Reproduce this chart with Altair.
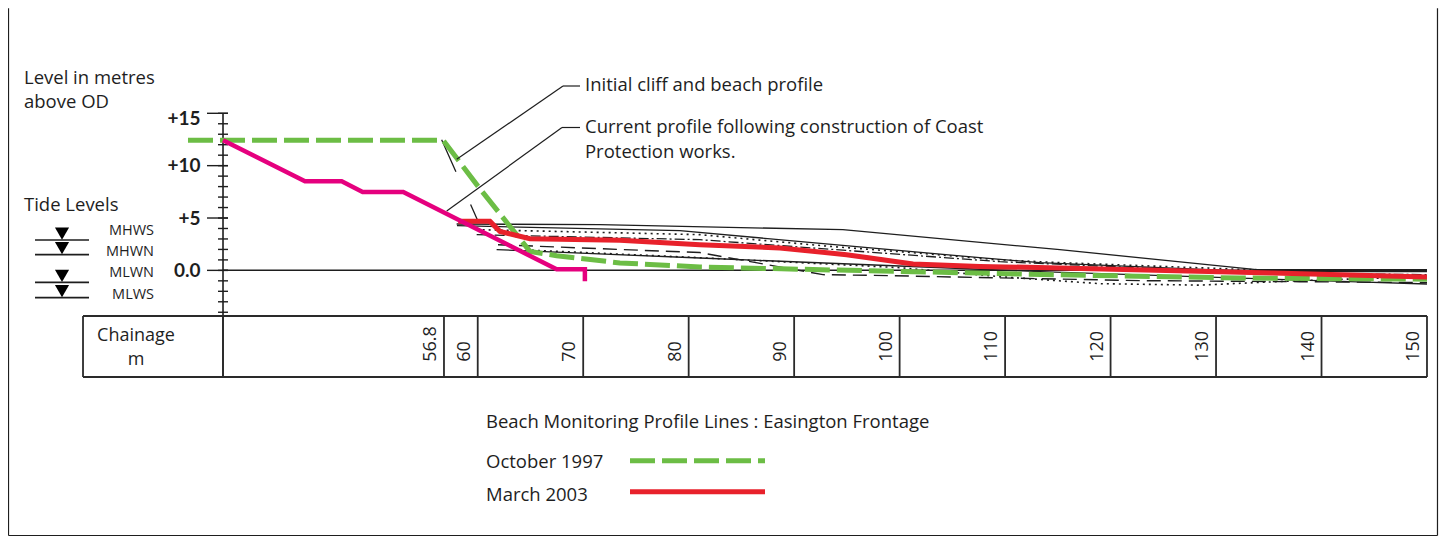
import altair as alt
import pandas as pd

FONT = "Open Sans"
NUMFONT = "Lato"
INK = "#1e1e1e"
GREEN = "#6cbd45"
RED = "#e8212b"
PINK = "#e5007e"

# ---- axes / grid values ----
X_MIN = 35.85          # chainage at the level axis (left edge of the plot)
X_MAX = 150.0
Y_MIN, Y_MAX = -4.3, 15.0
chainage_ticks = [56.8, 60, 70, 80, 90, 100, 110, 120, 130, 140, 150]
chainage_labels = ["56.8", "60", "70", "80", "90", "100", "110", "120", "130", "140", "150"]
level_major = [0, 5, 10, 15]
level_minor = list(range(-4, 16))

tide_names = ["MHWS", "MHWN", "MLWN", "MLWS"]
tide_levels = [2.9, 1.5, -1.15, -2.6]
tide_upper = [True, False, True, False]

# ---- profiles (chainage m, level m above OD) ----
oct1997_x = [32.53, 56.73, 60.05, 64.95, 67.48, 73.48, 81.06, 96.86, 114.52, 132.25, 150.0]
oct1997_y = [12.42, 12.42, 8.0, 1.81, 1.40, 0.71, 0.32, -0.03, -0.41, -0.73, -0.84]

mar2003_x = [58.15, 61.16, 62.11, 64.95, 73.48, 81.06, 88.65, 94.97, 101.28, 107.6, 115.19, 135.38, 150.0]
mar2003_y = [4.68, 4.68, 3.72, 3.03, 2.87, 2.45, 2.14, 1.50, 0.61, 0.38, 0.23, -0.25, -0.63]

cliff_x = [35.85, 43.62, 47.10, 49.09, 52.94, 67.48, 70.16, 70.16]
cliff_y = [12.42, 8.50, 8.50, 7.49, 7.49, 0.10, 0.10, -1.05]

s1_x = [58.0, 71.58, 94.62, 115.19, 133.83, 150.0]
s1_y = [4.43, 4.36, 3.89, 1.98, 0.07, 0.07]
s2_x = [58.03, 79.17, 107.6, 113.29, 133.83, 150.0]
s2_y = [4.27, 3.79, 1.21, 0.74, -0.12, -0.12]
s3_x = [59.9, 81.06, 93.39, 101.25, 109.12, 115.19, 133.2, 150.0]
s3_y = [3.89, 3.41, 2.29, 1.69, 1.02, 0.74, 0.07, -0.03]
s4_x = [61.92, 81.06, 92.72, 99.0, 105.0, 122.77, 137.94, 150.0]
s4_y = [2.45, 1.70, -0.41, -0.50, -0.63, -0.98, -1.08, -1.17]
s5_x = [64.0, 81.06, 100.02, 109.5, 118.98, 128.46, 137.94, 150.0]
s5_y = [1.98, 1.21, 0.26, -0.60, -1.27, -1.41, -0.98, -0.60]
s6_x = [59.9, 81.06, 109.5, 133.2, 150.0]
s6_y = [3.41, 2.93, 0.83, -0.22, -0.41]
s7_x = [61.79, 81.06, 113.29, 142.67, 150.0]
s7_y = [1.98, 1.18, -0.12, -1.08, -1.30]
s8_x = [56.58, 60.05]
s8_y = [12.48, 4.65]

# ---- encodings ----
XS = alt.Scale(domain=[X_MIN, X_MAX], nice=False, zero=False)
YS = alt.Scale(domain=[Y_MIN, Y_MAX], nice=False, zero=False)
YAXIS = alt.Axis(values=level_major, labelExpr="datum.value == 0 ? '0.0' : '+' + datum.value",
                 labelFont=NUMFONT, labelFontSize=19, labelFontWeight="bold", labelColor=INK,
                 ticks=False, domain=False, grid=False, labelPadding=23, labelFlush=True,
                 labelFlushOffset=4, title=None)


def X(field="chainage"):
    return alt.X(f"{field}:Q", scale=XS, axis=None)


def Y(field="level"):
    return alt.Y(f"{field}:Q", scale=YS, axis=YAXIS)


def profile(xs, ys, color, width, dash=None):
    df = pd.DataFrame({"chainage": xs, "level": ys, "order": list(range(len(xs)))})
    kw = dict(color=color, strokeWidth=width, strokeCap="butt", strokeJoin="miter")
    if dash:
        kw["strokeDash"] = dash
    return alt.Chart(df).mark_line(**kw).encode(x=X(), y=Y(), order="order:Q")


one = alt.Chart(pd.DataFrame({"k": [0]}))


def prule(x, y, x2, y2, w=1.2, color=INK, dash=None):
    kw = dict(color=color, strokeWidth=w)
    if dash:
        kw["strokeDash"] = dash
    return one.mark_rule(**kw).encode(x=alt.value(x), y=alt.value(y), x2=alt.value(x2), y2=alt.value(y2))


def ptext(t, x, y, size=18.5, align="left", weight="normal"):
    return one.mark_text(text=t, fontSize=size, font=FONT, color=INK, align=align,
                         baseline="middle", fontWeight=weight).encode(x=alt.value(x), y=alt.value(y))


layers = []

# frame
layers += [prule(-214.5, -105, -214.5, 422.2, 1.2),
           prule(1214.5, -105, 1214.5, 422.2, 1.2),
           prule(-214.5, 422.2, 1214.5, 422.2, 1.2)]

# level axis: line, ticks
axis_df = pd.DataFrame({"chainage": [X_MIN], "level": [Y_MAX]})
layers.append(alt.Chart(axis_df).mark_rule(color=INK, strokeWidth=1.6).encode(
    x=X(), y=Y(), y2=alt.value(263.7)))
minor_df = pd.DataFrame({"level": level_minor})
layers.append(alt.Chart(minor_df).mark_rule(color=INK, strokeWidth=1.4).encode(
    y=Y(), x=alt.value(-5), x2=alt.value(5)))
major_df = pd.DataFrame({"level": level_major})
layers.append(alt.Chart(major_df).mark_rule(color=INK, strokeWidth=1.4).encode(
    y=Y(), x=alt.value(-16), x2=alt.value(5)))

# zero line
zero_df = pd.DataFrame({"chainage": [X_MIN], "end": [X_MAX], "level": [0.0]})
layers.append(alt.Chart(zero_df).mark_rule(color=INK, strokeWidth=1.5).encode(
    x=X(), x2="end:Q", y=Y()))

# chainage table
layers += [prule(-140, 202.7, 1204, 202.7, 1.8, "#2a2a2a"),
           prule(-140, 263.7, 1204, 263.7, 1.8, "#2a2a2a"),
           prule(-140, 202.7, -140, 263.7, 1.8, "#2a2a2a")]
cell_df = pd.DataFrame({"chainage": [X_MIN] + chainage_ticks})
layers.append(alt.Chart(cell_df).mark_rule(color="#2a2a2a", strokeWidth=1.8).encode(
    x=X(), y=alt.value(202.7), y2=alt.value(263.7)))
lab_df = pd.DataFrame({"chainage": chainage_ticks, "label": chainage_labels})
layers.append(alt.Chart(lab_df).mark_text(angle=270, align="left", baseline="middle", xOffset=-13,
                                          fontSize=18, font=FONT, color=INK).encode(
    x=X(), y=alt.value(248.5), text="label:N"))
layers += [ptext("Chainage", -87, 222.7, 18, "center"), ptext("m", -87, 247.2, 18, "center")]

# axis titles
layers += [ptext("Level in metres", -199, -35.3), ptext("above OD", -199, -11.6),
           ptext("Tide Levels", -199, 91.7)]

# tide levels
tide_df = pd.DataFrame({"level": tide_levels, "name": tide_names, "upper": tide_upper})
layers.append(alt.Chart(tide_df).mark_rule(color=INK, strokeWidth=1.6).encode(
    y=Y(), x=alt.value(-188), x2=alt.value(-134)))
layers.append(alt.Chart(tide_df).mark_point(shape="triangle-down", filled=True, size=200, color="black",
                                            opacity=1, yOffset=-6.5).encode(y=Y(), x=alt.value(-161)))
layers.append(alt.Chart(tide_df).transform_filter("datum.upper").mark_text(
    align="right", baseline="alphabetic", dy=-5, fontSize=14.5, font=FONT, color=INK).encode(
    y=Y(), x=alt.value(-69), text="name:N"))
layers.append(alt.Chart(tide_df).transform_filter("!datum.upper").mark_text(
    align="right", baseline="alphabetic", dy=1.5, fontSize=14.5, font=FONT, color=INK).encode(
    y=Y(), x=alt.value(-69), text="name:N"))

# survey profiles (black)
layers += [
    profile(s1_x, s1_y, INK, 1.3),
    profile(s2_x, s2_y, INK, 1.3),
    profile(s3_x, s3_y, INK, 1.6, [2, 4]),
    profile(s4_x, s4_y, INK, 1.4, [14, 7]),
    profile(s5_x, s5_y, INK, 1.6, [2, 4]),
    profile(s6_x, s6_y, INK, 1.3, [10, 3, 2, 3]),
    profile(s7_x, s7_y, INK, 1.3),
    profile(s8_x, s8_y, INK, 1.3, [35, 36]),
]

# highlighted profiles
layers += [
    profile(oct1997_x, oct1997_y, GREEN, 5, [25, 7]),
    profile(mar2003_x, mar2003_y, RED, 5),
    profile(cliff_x, cliff_y, PINK, 4.5),
]

# annotations
layers += [
    prule(340, -27.3, 357, -27.3, 1.2), prule(340, -27.3, 233.7, 46, 1.2),
    prule(339, 14.2, 357, 14.2, 1.2), prule(339, 14.2, 223.7, 97.7, 1.2),
    ptext("Initial cliff and beach profile", 362, -28.3),
    ptext("Current profile following construction of Coast", 362, 13.7),
    ptext("Protection works.", 362, 38.7),
]

# legend
layers += [
    ptext("Beach Monitoring Profile Lines : Easington Frontage", 263, 308.4),
    ptext("October 1997", 263, 348.4),
    ptext("March 2003", 263, 381.7),
    prule(407, 347.4, 542, 347.4, 5, GREEN, [25, 7]),
    prule(407, 378.4, 542, 378.4, 5, RED),
]

chart = alt.layer(*layers).properties(
    width=1204, height=202.1,
    autosize=alt.AutoSizeParams(type="none"),
    padding={"left": 215, "top": 105.3, "right": 12, "bottom": 221},
    background="white",
).configure(font=FONT, view=alt.ViewConfig(stroke=None))

chart.save("out.html", embed_options={"renderer": "svg", "actions": False})
